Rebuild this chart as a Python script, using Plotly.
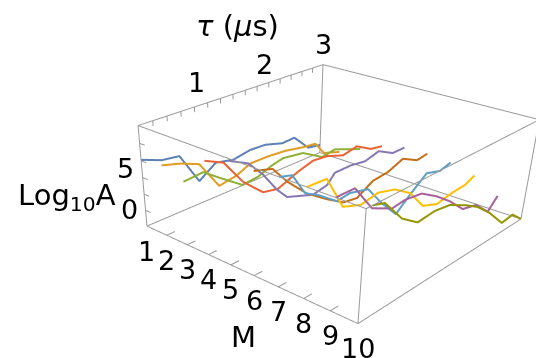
import plotly.graph_objects as go

M_VALUES = [1, 2, 3, 4, 5, 6, 7, 8, 9, 10]
COLORS = ["#5E81B5", "#E19C24", "#8FB032", "#EB6235", "#8778B3",
          "#C56E1A", "#5D9EC7", "#FFBF00", "#A5609D", "#929600"]

tau_1 = [0.0, 0.28, 0.54, 0.82, 1.09, 1.38, 1.67, 1.94, 2.25, 2.48, 2.76, 3.0]
log_1 = [6.1, 5.2, 4.9, 0.9, 2.4, 1.9, 2.3, 2.2, 1.5, 1.6, -0.6, -0.9]
tau_2 = [0.0, 0.26, 0.53, 0.82, 1.10, 1.33, 1.62, 1.94, 2.27, 2.50, 2.68, 3.0]
log_2 = [6.4, 5.8, 4.9, 1.3, 1.7, 2.5, 2.5, 2.3, 1.8, 1.6, -0.2, -1.0]
tau_3 = [0.0, 0.28, 0.53, 0.86, 1.11, 1.35, 1.53, 1.88, 2.24, 2.48, 2.79, 3.0]
log_3 = [5.5, 5.7, 4.2, 2.3, 2.5, 3.2, 3.5, 3.1, 1.5, 1.8, 0.9, 0.3]
tau_4 = [0.0, 0.26, 0.54, 0.84, 1.08, 1.40, 1.67, 1.92, 2.22, 2.48, 2.77, 3.0]
log_4 = [8.8, 7.8, 4.7, 2.5, 2.1, 3.1, 3.7, 3.5, 2.7, 3.1, 1.9, 1.6]
tau_5 = [0.01, 0.28, 0.49, 0.70, 0.86, 1.29, 1.53, 1.66, 1.95, 2.21, 2.47, 2.76, 3.0]
log_5 = [9.7, 8.6, 6.7, 4.3, 2.9, 1.7, 2.1, 3.2, 3.2, 2.9, 3.4, 2.3, 2.3]
tau_6 = [0.01, 0.27, 0.49, 0.79, 1.12, 1.41, 1.65, 1.93, 2.21, 2.49, 2.79, 3.0]
log_6 = [9.6, 9.0, 6.9, 4.6, 2.8, 1.4, 1.1, 2.3, 2.5, 3.3, 2.2, 2.4]
tau_7 = [0.0, 0.18, 0.37, 0.57, 0.87, 1.08, 1.39, 1.66, 1.95, 2.20, 2.50, 2.78, 3.0]
log_7 = [10.0, 9.6, 7.1, 6.2, 4.5, 4.7, 4.1, 1.5, -0.9, 0.7, 2.4, 1.8, 2.2]
tau_8 = [0.0, 0.28, 0.54, 0.83, 1.10, 1.39, 1.68, 1.96, 2.25, 2.54, 2.81, 3.0]
log_8 = [10.0, 9.9, 6.1, 5.3, 5.7, 5.1, 3.7, 1.2, 0.4, 0.8, 0.9, 1.5]
tau_9 = [0.0, 0.27, 0.55, 0.88, 1.09, 1.38, 1.67, 1.94, 2.24, 2.52, 2.82, 3.0]
log_9 = [10.0, 10.0, 7.0, 5.8, 6.0, 5.7, 4.4, 2.9, 0.9, 0.4, -1.5, -0.1]
tau_10 = [0.09, 0.27, 0.56, 0.83, 1.11, 1.38, 1.71, 1.94, 2.22, 2.54, 2.77, 3.0]
log_10 = [10.0, 9.6, 7.0, 5.6, 5.8, 5.5, 4.3, 3.3, 1.6, -0.8, -0.6, -2.0]
TAUS = [tau_1, tau_2, tau_3, tau_4, tau_5, tau_6, tau_7, tau_8, tau_9, tau_10]
LOGS = [log_1, log_2, log_3, log_4, log_5, log_6, log_7, log_8, log_9, log_10]

M_RANGE = [1, 10]
TAU_RANGE = [0, 3]
LOG_RANGE = [-2, 10]
TAU_TICKS = [0.2 * i for i in range(1, 15)]
LOG_TICKS = [0, 2, 4, 6, 8]
TAU_LABELS = [1, 2, 3]
LOG_LABELS = [0, 5]

DIGIT_FONT = dict(family="DejaVu Sans", size=27, color="black")
TITLE_FONT = dict(family="DejaVu Sans", size=29, color="black")
GREY = "#9a9a9a"

ml, mh = M_RANGE
tl, th = TAU_RANGE
zl, zh = LOG_RANGE
xs, ys, zs = [], [], []


def seg(a, b):
    xs.extend([a[0], b[0], None])
    ys.extend([a[1], b[1], None])
    zs.extend([a[2], b[2], None])


for t in (tl, th):
    for z in (zl, zh):
        seg((ml, t, z), (mh, t, z))
for m in (ml, mh):
    for z in (zl, zh):
        seg((m, tl, z), (m, th, z))
    for t in (tl, th):
        seg((m, t, zl), (m, t, zh))
for m in M_VALUES[1:-1]:
    seg((m, tl, zl), (m, tl + 0.12, zl))
for t in TAU_TICKS:
    seg((ml, t, zh), (ml, t, zh - 0.6))
for z in LOG_TICKS:
    seg((ml, tl, z), (ml + 0.25, tl, z))

fig = go.Figure()
fig.add_trace(go.Scatter3d(x=xs, y=ys, z=zs, mode="lines", showlegend=False, hoverinfo="skip",
                           line=dict(color=GREY, width=2)))
for m, t, v, c in zip(M_VALUES, TAUS, LOGS, COLORS):
    fig.add_trace(go.Scatter3d(x=[m] * len(t), y=t, z=v, mode="lines", showlegend=False,
                               line=dict(color=c, width=4)))

notes = []
for m in M_VALUES:
    notes.append(dict(x=m, y=tl, z=zl, text=str(m), yshift=-25, font=DIGIT_FONT))
for t, dx, dy in zip(TAU_LABELS, [-11, -4, 1], [20, 18, 20]):
    notes.append(dict(x=ml, y=t, z=zh, text=str(t), xshift=dx, yshift=dy, font=DIGIT_FONT))
for z in LOG_LABELS:
    notes.append(dict(x=ml, y=tl, z=z, text=str(z), xshift=-16, yshift=1, font=DIGIT_FONT))
notes.append(dict(x=6.5, y=tl, z=zl, text="M", xshift=-23, yshift=-56, font=TITLE_FONT))
notes.append(dict(x=ml, y=1.6, z=zh, text="<i>τ</i> (<i>μ</i>s)", xshift=-8, yshift=64, font=TITLE_FONT))
notes.append(dict(x=ml, y=tl, z=1, text="Log<sub>10</sub>A", xshift=-78, yshift=5, font=TITLE_FONT))
for n in notes:
    n.update(showarrow=False, xanchor="center", yanchor="middle")

# The axis ranges carry a hair of padding so marks lying on the box do not flicker at its clip planes.
hidden = dict(visible=False)
fig.update_layout(
    width=536, height=704, margin=dict(l=0, r=0, t=0, b=0),
    paper_bgcolor="white", showlegend=False,
    annotations=[dict(xref="paper", yref="paper", x=277 / 536, y=1, yanchor="bottom", yshift=-2,
                      text="(a)", showarrow=False, font=DIGIT_FONT)],
    scene=dict(
        domain=dict(x=[0, 1], y=[0, 1]),
        xaxis=dict(range=[ml - 0.01, mh + 0.01], **hidden),
        yaxis=dict(range=[tl - 0.004, th + 0.004], **hidden),
        zaxis=dict(range=[zl - 0.015, zh + 0.015], **hidden),
        aspectmode="manual",
        aspectratio=dict(x=0.9645, y=0.9742, z=0.3737),
        camera=dict(eye=dict(x=1.7360, y=-2.2340, z=1.1795),
                    center=dict(x=-0.0672, y=-0.2888, z=-0.6447),
                    up=dict(x=0.0005, y=0, z=1),
                    projection=dict(type="perspective")),
        annotations=notes,
    ),
)
clip = ("document.documentElement.style.overflow='hidden';"
        "document.body.style.overflow='hidden';"
        "document.body.style.margin='0';"
        "document.documentElement.style.height='358px';"
        "document.body.style.height='358px';")
fig.write_html("out.html", post_script=clip, config=dict(displayModeBar=False))
